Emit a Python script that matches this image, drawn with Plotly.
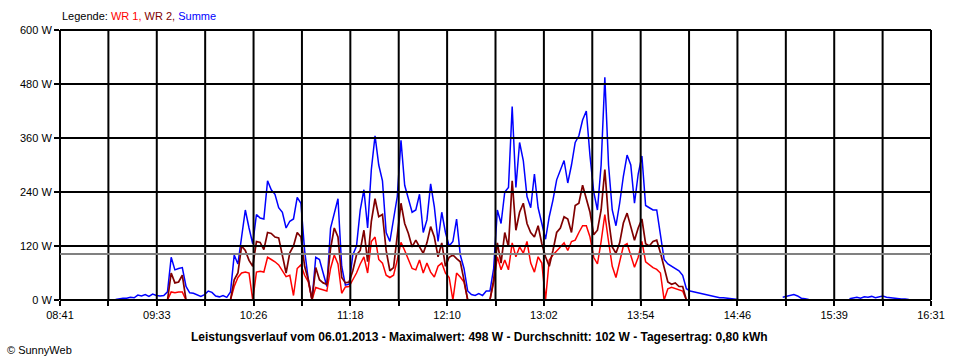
import plotly.graph_objects as go
from datetime import datetime

DAY = "2013-01-06"

TIMES = [
    "09:11", "09:13", "09:15", "09:17", "09:19", "09:21", "09:23", "09:25", "09:27", "09:29",
    "09:31", "09:33", "09:35", "09:37", "09:39", "09:41", "09:43", "09:45", "09:47", "09:49",
    "09:51", "09:53", "09:55", "09:57", "09:59", "10:01", "10:03", "10:05", "10:07", "10:09",
    "10:11", "10:13", "10:15", "10:17", "10:19", "10:21", "10:23", "10:25", "10:27", "10:29",
    "10:31", "10:33", "10:35", "10:37", "10:39", "10:41", "10:43", "10:45", "10:47", "10:49",
    "10:51", "10:53", "10:55", "10:57", "10:59", "11:01", "11:03", "11:05", "11:07", "11:09",
    "11:11", "11:13", "11:15", "11:17", "11:19", "11:21", "11:23", "11:25", "11:27", "11:29",
    "11:31", "11:33", "11:35", "11:37", "11:39", "11:41", "11:43", "11:45", "11:47", "11:49",
    "11:51", "11:53", "11:55", "11:57", "11:59", "12:01", "12:03", "12:05", "12:07", "12:09",
    "12:11", "12:13", "12:15", "12:17", "12:19", "12:21", "12:23", "12:25", "12:27", "12:29",
    "12:31", "12:33", "12:35", "12:37", "12:39", "12:41", "12:43", "12:45", "12:47", "12:49",
    "12:51", "12:53", "12:55", "12:57", "12:59", "13:01", "13:03", "13:05", "13:07", "13:09",
    "13:11", "13:13", "13:15", "13:17", "13:19", "13:21", "13:23", "13:25", "13:27", "13:29",
    "13:31", "13:33", "13:35", "13:37", "13:39", "13:41", "13:43", "13:45", "13:47", "13:49",
    "13:51", "13:53", "13:55", "13:57", "13:59", "14:01", "14:03", "14:05", "14:07", "14:09",
    "14:11", "14:13", "14:15", "14:17", "14:19", "14:21", "14:23", "14:25", "14:27", "14:29",
    "14:31", "14:33", "14:35", "14:37", "14:39", "14:41", "14:43", "14:45", "14:47",
    "14:59",
    "15:11", "15:13", "15:15", "15:17", "15:19", "15:21", "15:23", "15:25",
    "15:37",
    "15:47", "15:49", "15:51", "15:53", "15:55", "15:57", "15:59", "16:01", "16:03", "16:05",
    "16:07", "16:09", "16:11", "16:13", "16:15", "16:17", "16:19",
]

SUMME = [
    1, 3, 4, 4, 6, 5, 11, 9, 12, 8,
    13, 10, 9, 10, 18, 95, 67, 70, 72, 30,
    16, 15, 12, 8, 12, 20, 17, 9, 7, 10,
    6, 18, 100, 80, 140, 200, 160, 125, 190, 182,
    180, 265, 245, 235, 205, 195, 160, 175, 180, 228,
    215, 110, 45, 0, 95, 90, 60, 30, 160, 190,
    225, 75, 33, 35, 100, 120, 200, 245, 160, 290,
    365, 300, 265, 150, 130, 180, 230, 355, 255, 225,
    195, 200, 235, 150, 178, 258, 207, 130, 195, 150,
    120, 130, 180, 100, 70, 20, 12, 10, 14, 10,
    20, 20, 70, 200, 170, 240, 250, 430, 250, 350,
    310, 230, 205, 280, 205, 170, 135, 185, 222, 267,
    290, 310, 260, 300, 350, 365, 400, 420, 320, 240,
    200, 300, 495, 300, 200, 165, 215, 275, 322, 300,
    215, 280, 320, 210, 205, 200, 200, 140, 90, 80,
    75, 70, 65, 55, 25, 20, 18, 16, 14, 12,
    10, 8, 6, 5, 5, 4, 3, 2, 1,
    None,
    6, 8, 10, 12, 9, 4, 3, 1,
    None,
    3, 5, 6, 4, 7, 6, 8, 5, 7, 9,
    6, 5, 3, 3, 2, 2, 1,
]

WR1 = [
    0, 0, 0, 0, 0, 0, 0, 0, 0, 0,
    0, 0, 0, 0, 0, 18, 16, 18, 18, 0,
    0, 0, 0, 0, 0, 0, 0, 0, 0, 0,
    0, 0, 30, 50, 60, 62, 60, 0, 62, 64,
    62, 95, 90, 85, 78, 65, 52, 55, 10, 70,
    78, 55, 40, 0, 28, 25, 22, 20, 70, 100,
    80, 15, 29, 30, 45, 60, 80, 96, 60, 130,
    140, 90, 82, 55, 50, 55, 89, 128, 110, 89,
    70, 67, 89, 60, 82, 62, 51, 75, 82, 60,
    50, 0, 60, 51, 40, 0, 0, 0, 0, 0,
    0, 0, 38, 96, 67, 89, 67, 127, 96, 118,
    104, 130, 82, 62, 96, 82, 0, 89, 100, 110,
    118, 127, 110, 130, 133, 150, 165, 165, 140, 95,
    80, 130, 190, 130, 75, 50, 85, 120, 125, 100,
    73, 95, 130, 85, 78, 72, 68, 60, 0, 25,
    28, 25, 22, 20, 0, 0, 0, 0, 0, 0,
    0, 0, 0, 0, 0, 0, 0, 0, 0,
    None,
    None, None, None, None, None, None, None, None,
    None,
    None, None, None, None, None, None, None, None, None, None,
    None, None, None, None, None, None, None,
]

WR2 = [
    0, 0, 0, 0, 0, 0, 0, 0, 0, 0,
    0, 0, 0, 0, 0, 60, 38, 40, 55, 0,
    0, 0, 0, 0, 0, 0, 0, 0, 0, 0,
    0, 0, 45, 60, 120, 110, 88, 75, 130, 128,
    112, 150, 148, 140, 138, 95, 60, 105, 120, 150,
    140, 75, 45, 0, 72, 45, 38, 35, 115, 160,
    140, 50, 38, 40, 65, 100, 110, 155, 85, 175,
    225, 185, 190, 110, 65, 72, 140, 215, 170, 148,
    118, 133, 118, 104, 127, 163, 140, 96, 127, 75,
    95, 100, 92, 85, 44, 0, 0, 0, 0, 0,
    0, 0, 45, 127, 82, 150, 118, 265, 155, 195,
    215, 170, 150, 140, 165, 125, 96, 75, 110, 150,
    160, 185, 180, 150, 210, 215, 255, 225, 195, 145,
    155, 200, 290, 180, 118, 104, 127, 171, 193, 163,
    133, 160, 180, 125, 120, 130, 133, 105, 70, 40,
    35, 38, 30, 30, 0, 0, 0, 0, 0, 0,
    0, 0, 0, 0, 0, 0, 0, 0, 0,
    None,
    None, None, None, None, None, None, None, None,
    None,
    None, None, None, None, None, None, None, None, None, None,
    None, None, None, None, None, None, None,
]

Y_TICKS = [0, 120, 240, 360, 480, 600]
X_TICK_LABELS = ["08:41", "09:33", "10:26", "11:18", "12:10",
                 "13:02", "13:54", "14:46", "15:39", "16:31"]
AVERAGE_W = 102
TITLE = ("Leistungsverlauf vom 06.01.2013 - Maximalwert: 498 W - "
         "Durchschnitt: 102 W - Tagesertrag: 0,80 kWh")

X_START = datetime(2013, 1, 6, 8, 41)
X_END = datetime(2013, 1, 6, 16, 31)
N_DIV = 18

x = [f"{DAY} {t}" for t in TIMES]
step = (X_END - X_START) / N_DIV
tickvals = [X_START + step * k for k in range(N_DIV + 1)]
ticktext = [X_TICK_LABELS[k // 2] if k % 2 == 0 else "" for k in range(N_DIV + 1)]

FONT = "Liberation Sans, Arial, sans-serif"

fig = go.Figure()
fig.add_trace(go.Scatter(x=x, y=SUMME, mode="lines", name="Summe",
                         line=dict(color="#0000FF", width=1.5)))
fig.add_trace(go.Scatter(x=x, y=WR1, mode="lines", name="WR 1",
                         line=dict(color="#FF0000", width=1.5)))
fig.add_trace(go.Scatter(x=x, y=WR2, mode="lines", name="WR 2",
                         line=dict(color="#800000", width=1.7)))

shapes = []
for k in range(N_DIV + 1):
    shapes.append(dict(type="line", xref="paper", yref="paper",
                       x0=k / N_DIV, x1=k / N_DIV, y0=0, y1=1,
                       line=dict(color="black", width=2), layer="above"))
for v in Y_TICKS:
    shapes.append(dict(type="line", xref="paper", yref="paper",
                       x0=0, x1=1, y0=v / Y_TICKS[-1], y1=v / Y_TICKS[-1],
                       line=dict(color="black", width=2), layer="above"))
shapes.append(dict(type="line", xref="paper", yref="y", x0=0, x1=1,
                   y0=AVERAGE_W, y1=AVERAGE_W,
                   line=dict(color="#808080", width=2), layer="above"))

annotations = [
    dict(text=("Legende: <span style='color:#FF0000'>WR 1,</span> "
               "<span style='color:#800000'>WR 2,</span> "
               "<span style='color:#0000FF'>Summe</span>"),
         xref="paper", yref="paper", x=0, y=1.052, xanchor="left", yanchor="middle",
         showarrow=False, font=dict(family=FONT, size=11, color="black")),
    dict(text=f"<b>{TITLE}</b>", xref="paper", yref="paper", x=0.482, y=-0.137,
         xanchor="center", yanchor="middle", showarrow=False,
         font=dict(family=FONT, size=12, color="black")),
    dict(text="© SunnyWeb", xref="paper", yref="paper", x=-0.0631, y=-0.185,
         xanchor="left", yanchor="middle", showarrow=False,
         font=dict(family=FONT, size=11, color="black")),
]

fig.update_layout(
    width=960, height=360,
    margin=dict(l=60, r=29, t=30, b=60),
    paper_bgcolor="white", plot_bgcolor="white",
    showlegend=False,
    font=dict(family=FONT, size=11, color="black"),
    shapes=shapes, annotations=annotations,
)
fig.update_xaxes(type="date", range=[X_START, X_END], tickvals=tickvals, ticktext=ticktext,
                 showgrid=False, zeroline=False, showline=False,
                 ticks="outside", ticklen=5, tickwidth=2, tickcolor="black",
                 tickfont=dict(family=FONT, size=11, color="black"))
fig.update_yaxes(range=[0, 600], tickvals=Y_TICKS, ticktext=[f"{v} W" for v in Y_TICKS],
                 showgrid=False, zeroline=False, showline=False,
                 ticks="outside", ticklen=5, tickwidth=2, tickcolor="black",
                 tickfont=dict(family=FONT, size=11, color="black"))

fig.write_html("out.html", config={"displayModeBar": False},
               post_script="document.body.style.margin='0';document.body.style.overflow='hidden';")
